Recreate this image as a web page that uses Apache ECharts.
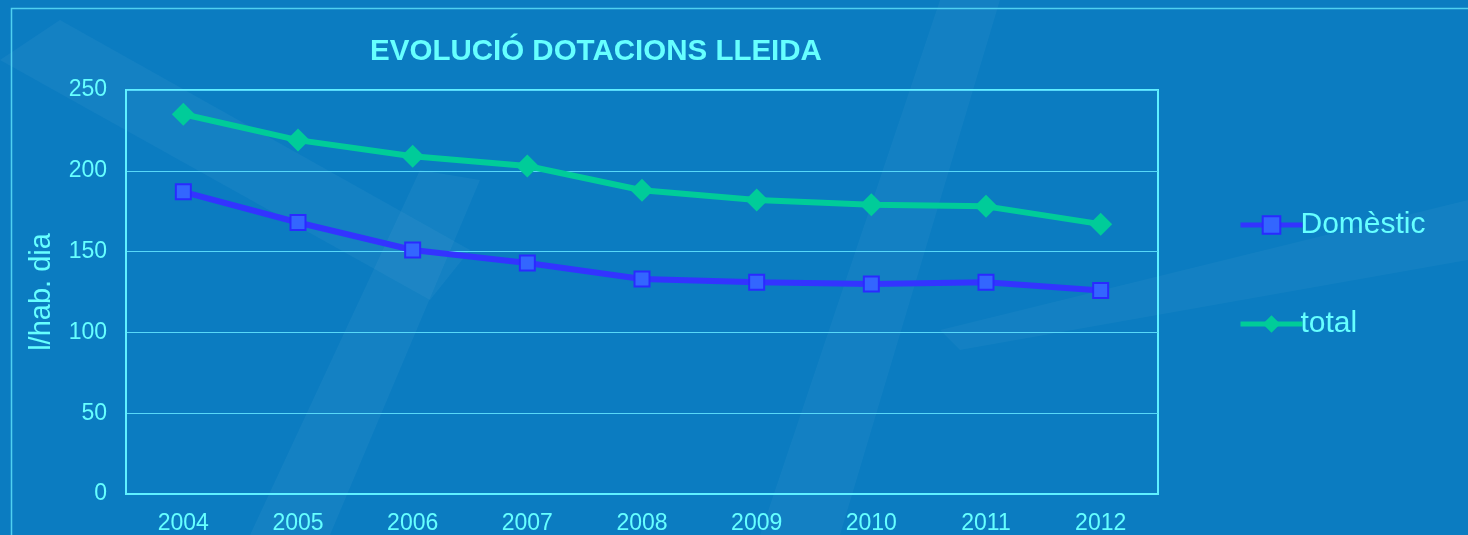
<!DOCTYPE html>
<html><head><meta charset="utf-8">
<script src="https://cdn.jsdelivr.net/npm/echarts@6/dist/echarts.min.js"></script>
<style>html,body{margin:0;padding:0;background:#0b7cc1;}#c{width:1468px;height:535px;}</style>
</head><body><div id="c"></div>
<script>
const categories = ['2004','2005','2006','2007','2008','2009','2010','2011','2012'];
const domestic = [187, 168, 151, 143, 133, 131, 130, 131, 126];
const total = [235, 219, 209, 203, 188, 182, 179, 178, 167];
const yTicks = [0, 50, 100, 150, 200, 250];
const title = 'EVOLUCIÓ DOTACIONS LLEIDA';
const yName = 'l/hab. dia';
const names = ['Domèstic', 'total'];

const txt = '#66ffff';
const font = 'Liberation Sans, Arial, sans-serif';
const chart = echarts.init(document.getElementById('c'));
const legendBase = {orient:'vertical', left:1238, padding:0, itemWidth:62, itemHeight:22, itemGap:4,
  lineStyle:{width:5}, textStyle:{color:txt, fontFamily:font, fontSize:30, padding:[0,0,0,-7]}};
chart.setOption({
  backgroundColor: '#0b7cc1',
  animation: false,
  graphic: [
    {type:'polygon', silent:true, z:-10, shape:{points:[[0,60],[60,20],[470,250],[430,300]]}, style:{fill:'rgba(255,255,255,0.04)'}},
    {type:'polygon', silent:true, z:-10, shape:{points:[[250,535],[330,535],[480,180],[420,170]]}, style:{fill:'rgba(255,255,255,0.04)'}},
    {type:'polygon', silent:true, z:-10, shape:{points:[[760,535],[840,535],[1000,0],[940,0]]}, style:{fill:'rgba(255,255,255,0.035)'}},
    {type:'polygon', silent:true, z:-10, shape:{points:[[940,330],[1468,200],[1468,260],[960,350]]}, style:{fill:'rgba(255,255,255,0.035)'}},
    {type:'rect', silent:true, z:-5, shape:{x:11.5, y:8.5, width:1500, height:600}, style:{fill:'none', stroke:'#4fd0f0', lineWidth:1.5}}
  ],
  title: {
    text: title, left: 591, top: 32, textAlign: 'center',
    textStyle: {color: txt, fontFamily: font, fontSize: 29.5, fontWeight: 'bold'}
  },
  legend: [
    Object.assign({data:[names[0]], top:210}, legendBase),
    Object.assign({data:[names[1]], top:309}, legendBase)
  ],
  grid: {left:126, right:310, top:90, bottom:39, show:true, borderColor:'#5ff0ff', borderWidth:2, backgroundColor:'transparent'},
  xAxis: {
    type:'category', data: categories, boundaryGap:true,
    axisLine:{show:true, lineStyle:{color:'#5ff0ff', width:2}},
    axisTick:{show:false},
    axisLabel:{color:txt, fontFamily:font, fontSize:23, margin:18}
  },
  yAxis: {
    type:'value', min:yTicks[0], max:yTicks[yTicks.length-1], interval:50,
    name: yName, nameLocation:'middle', nameGap:70, nameRotate:90,
    nameTextStyle:{color:txt, fontFamily:font, fontSize:29},
    axisLine:{show:true, lineStyle:{color:'#5ff0ff', width:2}},
    axisTick:{show:false},
    axisLabel:{color:txt, fontFamily:font, fontSize:23, margin:19},
    splitLine:{show:true, lineStyle:{color:'#58d8f8', width:1}}
  },
  series: [
    {name:names[0], type:'line', data:domestic, symbol:'rect', symbolSize:15,
     lineStyle:{color:'#3333ff', width:6}, itemStyle:{color:'#3366ff', borderColor:'#2a2aff', borderWidth:2}, z:3},
    {name:names[1], type:'line', data:total, symbol:'diamond', symbolSize:[23,23],
     lineStyle:{color:'#00cc99', width:6}, itemStyle:{color:'#00cc99', borderWidth:0}, z:3}
  ]
});
</script></body></html>
